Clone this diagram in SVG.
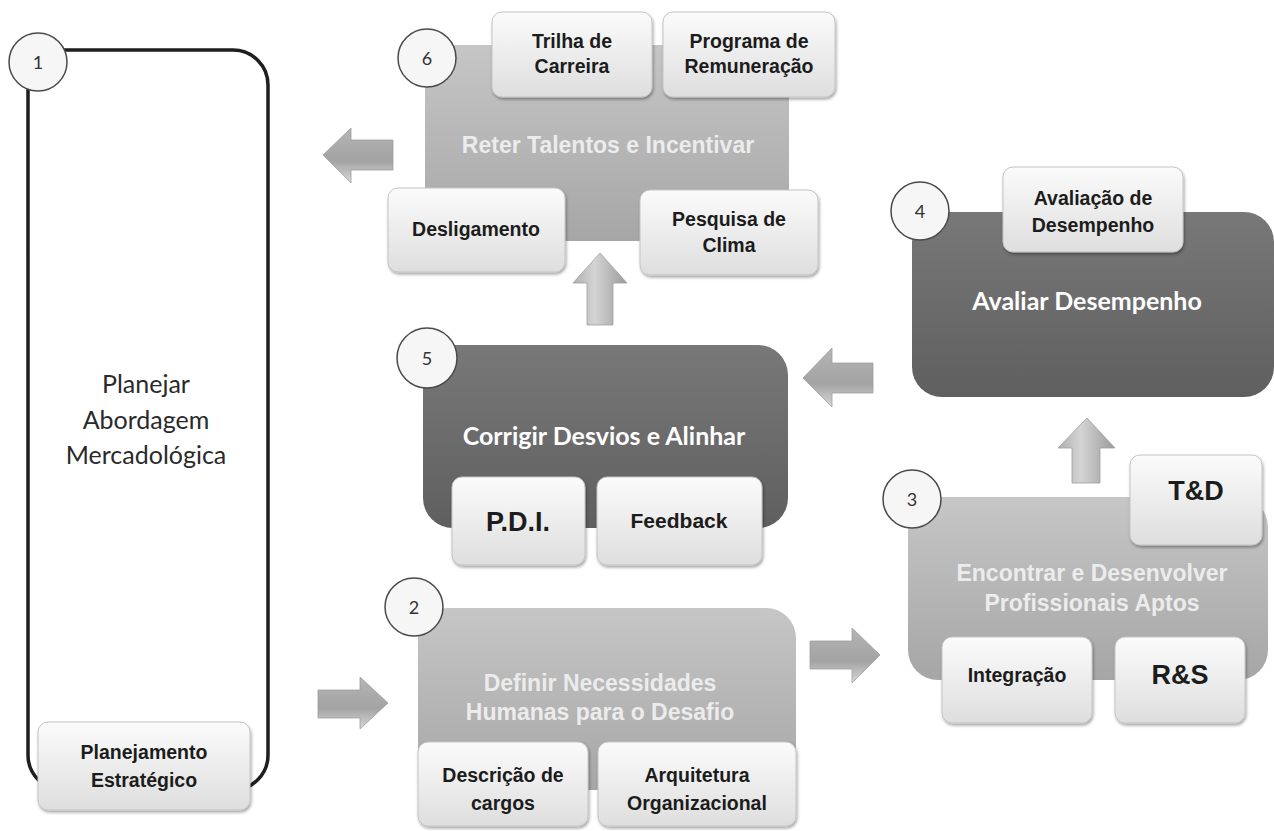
<svg xmlns="http://www.w3.org/2000/svg" width="1274" height="831" viewBox="0 0 1274 831">
<defs>
<linearGradient id="gLight" x1="0" y1="0" x2="0" y2="1"><stop offset="0" stop-color="#c6c6c6"/><stop offset="1" stop-color="#a6a6a6"/></linearGradient>
<linearGradient id="gDark" x1="0" y1="0" x2="0" y2="1"><stop offset="0" stop-color="#787878"/><stop offset="1" stop-color="#5f5f5f"/></linearGradient>
<linearGradient id="gBox" x1="0" y1="0" x2="0" y2="1"><stop offset="0" stop-color="#fbfbfb"/><stop offset="1" stop-color="#dedede"/></linearGradient>
<linearGradient id="gArrH" x1="0" y1="0" x2="0" y2="1"><stop offset="0" stop-color="#b5b5b5"/><stop offset="0.6" stop-color="#a3a3a3"/><stop offset="1" stop-color="#d8d8d8"/></linearGradient>
<linearGradient id="gArrV" x1="0" y1="0" x2="1" y2="0"><stop offset="0" stop-color="#b0b0b0"/><stop offset="0.4" stop-color="#d4d4d4"/><stop offset="1" stop-color="#9a9a9a"/></linearGradient>
<filter id="sh" x="-10%" y="-10%" width="130%" height="140%"><feDropShadow dx="1" dy="2" stdDeviation="1.5" flood-color="#000" flood-opacity="0.35"/></filter>
</defs>
<style>
.light{fill:url(#gLight);}
.dark{fill:url(#gDark);}
.box{fill:url(#gBox);stroke:#c4c4c4;stroke-width:1;filter:url(#sh);}
.circ{fill:#f6f6f6;stroke:#4a4a4a;stroke-width:1.5;}
.num{font-family:"Lato","Open Sans",sans-serif;font-size:18px;fill:#333;text-anchor:middle;dominant-baseline:central;}
.bt{font-family:"Liberation Sans",Arial,sans-serif;font-weight:bold;font-size:19.5px;fill:#1c1c1c;text-anchor:middle;}
.big{font-size:27px;}
.mid{font-size:21px;}
.ttl{font-family:"Lato","Open Sans",sans-serif;font-weight:bold;font-size:25px;fill:#ffffff;text-anchor:middle;}
.ttlL{font-family:"Liberation Sans",Arial,sans-serif;font-weight:bold;font-size:23px;fill:#ececec;text-anchor:middle;}
.plan{font-family:"Lato","Open Sans",sans-serif;font-size:25px;fill:#2a2a2a;text-anchor:middle;}
.arrH{fill:url(#gArrH);stroke:#a0a0a0;stroke-width:0.8;}
.arrV{fill:url(#gArrV);stroke:#a0a0a0;stroke-width:0.8;}
</style>
<rect width="1274" height="831" fill="#ffffff"/>

<g id="connectors">
<polygon class="arrH" points="323,155 351,128 351,140 393,140 393,170 351,170 351,183"/>
<polygon class="arrV" points="600,253 627,283 613,283 613,325 587,325 587,283 573,283"/>
<polygon class="arrH" points="803,378 832,348 832,363 873,363 873,393 832,393 832,407"/>
<polygon class="arrV" points="1087,418 1115,448 1100,448 1100,483 1072,483 1072,448 1058,448"/>
<polygon class="arrH" points="880,655 852,628 852,641 810,641 810,669 852,669 852,683"/>
<polygon class="arrH" points="388,703 360,677 360,690 318,690 318,718 360,718 360,729"/>
</g>

<g id="node1">
<path d="M38,50 H233 A35,35 0 0 1 268,85 V755 A35,35 0 0 1 233,790 H63 A35,35 0 0 1 28,755 V62" fill="none" stroke="#1e1e1e" stroke-width="3.5"/>
<circle class="circ" cx="38" cy="62" r="29"/>
<text class="num" x="38" y="62">1</text>
<text class="plan" x="146" y="393">Planejar</text>
<text class="plan" x="146" y="429">Abordagem</text>
<text class="plan" x="146" y="464">Mercadológica</text>
<rect class="box" x="38" y="722" width="212" height="88" rx="10"/>
<text class="bt" x="144" y="759">Planejamento</text>
<text class="bt" x="144" y="787">Estratégico</text>
</g>

<g id="node6">
<rect class="light" x="425" y="45" width="364" height="196" rx="4"/>
<text class="ttlL" x="608" y="153">Reter Talentos e Incentivar</text>
<rect class="box" x="492" y="12" width="160" height="85" rx="10"/>
<text class="bt" x="572" y="48">Trilha de</text>
<text class="bt" x="572" y="73">Carreira</text>
<rect class="box" x="663" y="12" width="172" height="85" rx="10"/>
<text class="bt" x="749" y="48">Programa de</text>
<text class="bt" x="749" y="73">Remuneração</text>
<rect class="box" x="388" y="188" width="177" height="84" rx="10"/>
<text class="bt" x="476" y="236">Desligamento</text>
<rect class="box" x="640" y="190" width="178" height="85" rx="10"/>
<text class="bt" x="729" y="226">Pesquisa de</text>
<text class="bt" x="729" y="252">Clima</text>
<circle class="circ" cx="427" cy="58" r="29"/>
<text class="num" x="427" y="58">6</text>
</g>

<g id="node5">
<rect class="dark" x="423" y="345" width="365" height="183" rx="30"/>
<text class="ttl" x="604" y="445">Corrigir Desvios e Alinhar</text>
<rect class="box" x="452" y="477" width="133" height="88" rx="10"/>
<text class="bt big" x="518" y="531">P.D.I.</text>
<rect class="box" x="597" y="477" width="165" height="88" rx="10"/>
<text class="bt mid" x="679" y="528">Feedback</text>
<circle class="circ" cx="427" cy="358" r="30"/>
<text class="num" x="427" y="358">5</text>
</g>

<g id="node4">
<rect class="dark" x="912" y="212" width="362" height="185" rx="30"/>
<text class="ttl" x="1087" y="310">Avaliar Desempenho</text>
<rect class="box" x="1003" y="167" width="180" height="85" rx="10"/>
<text class="bt" x="1093" y="205">Avaliação de</text>
<text class="bt" x="1093" y="232">Desempenho</text>
<circle class="circ" cx="920" cy="211" r="29"/>
<text class="num" x="920" y="211">4</text>
</g>

<g id="node3">
<rect class="light" x="908" y="497" width="360" height="183" rx="30"/>
<text class="ttlL" x="1092" y="581">Encontrar e Desenvolver</text>
<text class="ttlL" x="1092" y="611">Profissionais Aptos</text>
<rect class="box" x="1130" y="455" width="132" height="90" rx="10"/>
<text class="bt big" x="1196" y="500">T&amp;D</text>
<rect class="box" x="942" y="637" width="150" height="86" rx="10"/>
<text class="bt" x="1017" y="682">Integração</text>
<rect class="box" x="1115" y="637" width="130" height="86" rx="10"/>
<text class="bt big" x="1180" y="684">R&amp;S</text>
<circle class="circ" cx="912" cy="499" r="29"/>
<text class="num" x="912" y="499">3</text>
</g>

<g id="node2">
<rect class="light" x="418" y="608" width="378" height="182" rx="30"/>
<text class="ttlL" x="600" y="691">Definir Necessidades</text>
<text class="ttlL" x="600" y="720">Humanas para o Desafio</text>
<rect class="box" x="418" y="742" width="170" height="84" rx="10"/>
<text class="bt" x="503" y="782">Descrição de</text>
<text class="bt" x="503" y="810">cargos</text>
<rect class="box" x="598" y="742" width="198" height="84" rx="10"/>
<text class="bt" x="697" y="782">Arquitetura</text>
<text class="bt" x="697" y="810">Organizacional</text>
<circle class="circ" cx="414" cy="607" r="29"/>
<text class="num" x="414" y="607">2</text>
</g>
</svg>
